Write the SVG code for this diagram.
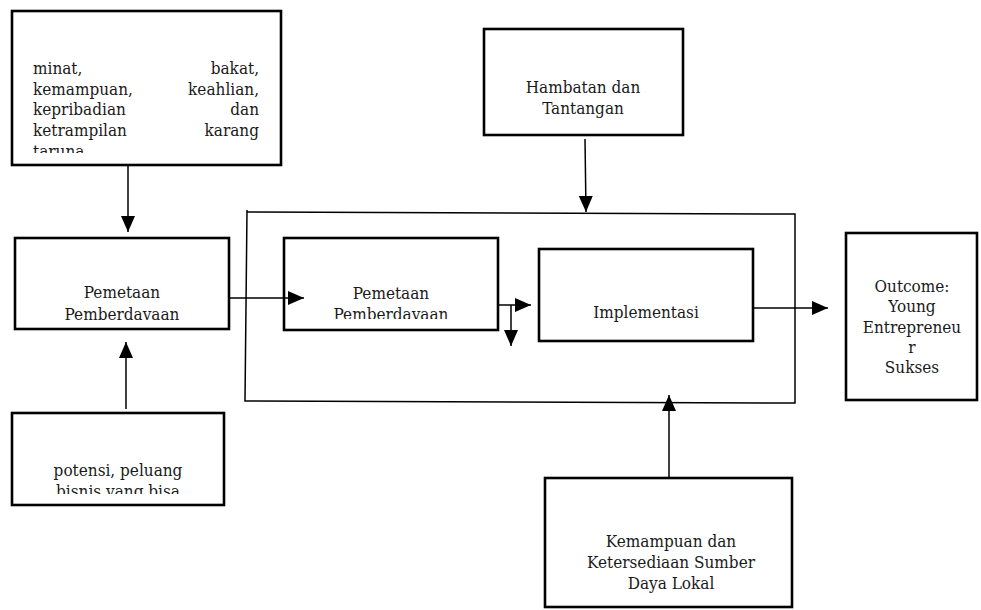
<svg xmlns="http://www.w3.org/2000/svg" width="981" height="610" viewBox="0 0 981 610">
<style>
.box{fill:#fff;stroke:#000;stroke-width:2.6}
.t{font-family:'DejaVu Serif Condensed','DejaVu Serif',serif;font-stretch:condensed;font-size:17px;fill:#1a1a1a}
.c{text-anchor:middle}
.e{text-anchor:end}
.ln{fill:none;stroke:#000;stroke-width:1.5}
</style>
<defs>
<marker id="ah" markerUnits="userSpaceOnUse" markerWidth="17" markerHeight="15" refX="16" refY="7" orient="auto">
<path d="M0,0 L16,7 L0,14 z" fill="#000"/>
</marker>
<clipPath id="c1"><rect x="14" y="12" width="266" height="141"/></clipPath>
<clipPath id="c2"><rect x="16" y="239" width="212" height="81"/></clipPath>
<clipPath id="c3"><rect x="285" y="239" width="212" height="80"/></clipPath>
<clipPath id="c6"><rect x="13" y="414" width="210" height="80"/></clipPath>
</defs>
<g id="frame">
<path class="ln" d="M247,210 L245,401 L795,403 L795,214 L247,212"/>
</g>
<g id="n1">
<rect class="box" x="12" y="11" width="269" height="154"/>
<g clip-path="url(#c1)" class="t">
<text x="33" y="74">minat,</text><text class="e" x="259" y="74">bakat,</text>
<text x="33" y="95">kemampuan,</text><text class="e" x="259" y="95">keahlian,</text>
<text x="33" y="115">kepribadian</text><text class="e" x="259" y="115">dan</text>
<text x="33" y="136">ketrampilan</text><text class="e" x="259" y="136">karang</text>
<text x="33" y="157">taruna</text>
</g>
</g>
<g id="n2">
<rect class="box" x="15" y="238" width="214" height="91"/>
<g clip-path="url(#c2)" class="t c">
<text x="122" y="298">Pemetaan</text>
<text x="122" y="320">Pemberdayaan</text>
</g>
</g>
<g id="n3">
<rect class="box" x="284" y="238" width="214" height="92"/>
<g clip-path="url(#c3)" class="t c">
<text x="391" y="299">Pemetaan</text>
<text x="391" y="320">Pemberdayaan</text>
</g>
</g>
<g id="n4">
<rect class="box" x="539" y="249" width="214" height="92"/>
<text class="t c" x="646" y="318">Implementasi</text>
</g>
<g id="n5">
<rect class="box" x="846" y="233" width="131" height="167"/>
<g class="t c">
<text x="912" y="292">Outcome:</text>
<text x="912" y="312">Young</text>
<text x="912" y="333">Entrepreneu</text>
<text x="912" y="353">r</text>
<text x="912" y="373">Sukses</text>
</g>
</g>
<g id="n6">
<rect class="box" x="484" y="29" width="199" height="106"/>
<g class="t c">
<text x="583" y="93">Hambatan dan</text>
<text x="583" y="114">Tantangan</text>
</g>
</g>
<g id="n7">
<rect class="box" x="545" y="478" width="247" height="129"/>
<g class="t c">
<text x="671" y="547">Kemampuan dan</text>
<text x="671" y="568">Ketersediaan Sumber</text>
<text x="671" y="589">Daya Lokal</text>
</g>
</g>
<g id="n8">
<rect class="box" x="12" y="413" width="212" height="92"/>
<g clip-path="url(#c6)" class="t c">
<text x="118" y="476">potensi, peluang</text>
<text x="118" y="497">bisnis yang bisa</text>
</g>
</g>
<g id="connectors">
<path class="ln" d="M128,165 L128,232" marker-end="url(#ah)"/>
<path class="ln" d="M126,409 L126,342" marker-end="url(#ah)"/>
<path class="ln" d="M229,298 L304,298" marker-end="url(#ah)"/>
<path class="ln" d="M498,305 L531,305" marker-end="url(#ah)"/>
<path class="ln" d="M511,305 L511,346" marker-end="url(#ah)"/>
<path class="ln" d="M753,308 L828,308" marker-end="url(#ah)"/>
<path class="ln" d="M585,139 L586,212" marker-end="url(#ah)"/>
<path class="ln" d="M669,478 L669,395" marker-end="url(#ah)"/>
</g>
</svg>
